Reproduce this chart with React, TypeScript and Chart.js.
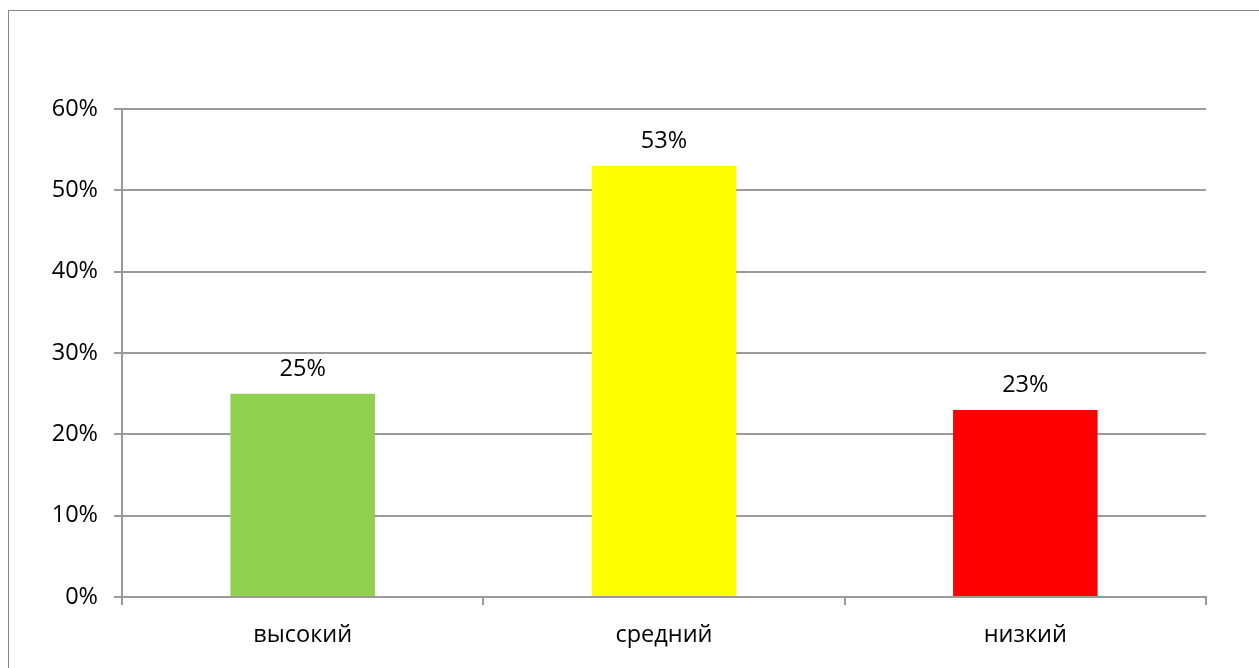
import React, { useEffect, useRef } from "react";
import { Chart, registerables } from "chart.js";

Chart.register(...registerables);

const categories = ["высокий", "средний", "низкий"];
const values = [0.25, 0.53, 0.23];
const barColors = ["#92D050", "#FFFF00", "#FF0000"];
const yTickMin = 0;
const yTickMax = 0.6;
const yTickStep = 0.1;

const FONT = "'Open Sans', 'Liberation Sans', sans-serif";
const GRID = "#9a9a9a";
const FS = 23.5;

const labelPlugin = {
  id: "barLabels",
  afterDatasetsDraw(chart: any) {
    const ctx = chart.ctx;
    const meta = chart.getDatasetMeta(0);
    ctx.save();
    ctx.font = `${FS}px ${FONT}`;
    ctx.fillStyle = "#000";
    ctx.textAlign = "center";
    ctx.textBaseline = "alphabetic";
    meta.data.forEach((bar: any, i: number) => {
      const v = chart.data.datasets[0].data[i] as number;
      ctx.fillText(Math.round(v * 100) + "%", bar.x, bar.y - 18);
    });
    ctx.restore();
  },
};

export default function App() {
  const ref = useRef<HTMLCanvasElement>(null);
  useEffect(() => {
    if (!ref.current) return;
    const chart = new Chart(ref.current, {
      type: "bar",
      data: {
        labels: categories,
        datasets: [
          {
            data: values,
            backgroundColor: barColors,
            borderWidth: 0,
            barPercentage: 0.4,
            categoryPercentage: 1,
          },
        ],
      },
      options: {
        animation: false,
        responsive: false,
        maintainAspectRatio: false,
        layout: { padding: { top: 109, right: 53, left: 0, bottom: 0 } },
        plugins: { legend: { display: false }, tooltip: { enabled: false } },
        scales: {
          x: {
            grid: {
              offset: true,
              drawOnChartArea: false,
              drawTicks: true,
              tickLength: 8,
              color: GRID,
              lineWidth: 2,
            },
            border: { color: GRID, width: 2 },
            ticks: { color: "#000", font: { family: FONT, size: FS }, padding: 16 },
            afterFit: (s: any) => {
              s.height = 71;
            },
          },
          y: {
            min: yTickMin,
            max: yTickMax,
            ticks: {
              stepSize: yTickStep,
              color: "#000",
              font: { family: FONT, size: FS },
              padding: 16,
              callback: (v: any) => Math.round(Number(v) * 100) + "%",
            },
            grid: { color: GRID, lineWidth: 2, tickLength: 8 },
            border: { color: GRID, width: 2 },
            afterFit: (s: any) => {
              s.width = 122;
            },
          },
        },
      },
      plugins: [labelPlugin],
    });
    return () => chart.destroy();
  }, []);
  return (
    <div>
      <div
        style={{
          position: "fixed",
          left: 8,
          top: 10,
          width: 1300,
          height: 700,
          border: `1px solid #868686`,
          boxSizing: "border-box",
          background: "#fff",
        }}
      />
      <canvas
        ref={ref}
        width={1259}
        height={668}
        style={{ position: "fixed", left: 0, top: 0, width: 1259, height: 668 }}
      />
    </div>
  );
}
